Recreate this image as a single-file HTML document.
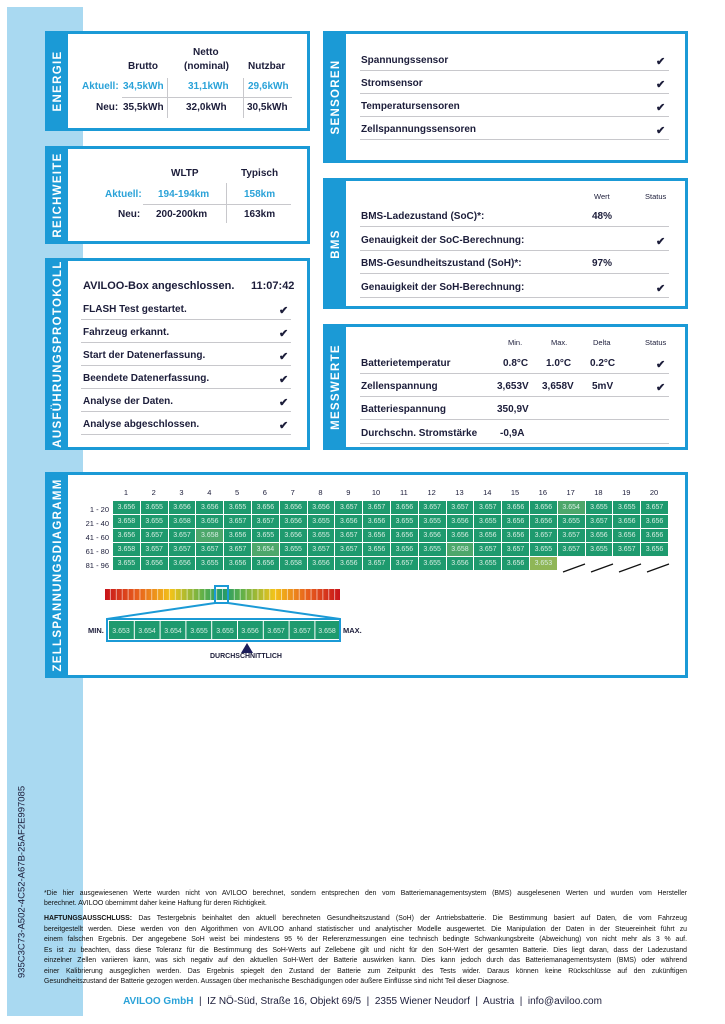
<!DOCTYPE html>
<html><head><meta charset="utf-8">
<style>
*{margin:0;padding:0;box-sizing:border-box}
body{width:725px;height:1024px;position:relative;background:#fff;font-family:"Liberation Sans",sans-serif;color:#1c1d3a;overflow:hidden}
.strip{position:absolute;left:7px;top:7px;width:76px;height:1009px;background:#a9d9f1}
.p{position:absolute;background:#fff;border:3px solid #1b9ad6}
.bar{position:absolute;left:0;top:0;bottom:0;width:20px;background:#1b9ad6}
.vt{position:absolute;left:10px;top:50%;transform:translate(-50%,-50%) rotate(-90deg);color:#fff;font-weight:bold;font-size:11.5px;letter-spacing:1.3px;white-space:nowrap}
.a{position:absolute;white-space:nowrap;font-size:10px;font-weight:bold}
.c{color:#2aa2d8}
.hl{position:absolute;height:1px;background:#c8c8cc}
.vl{position:absolute;width:1px;background:#c8c8cc}
.ck{position:absolute;font-size:11px;font-weight:bold}
.sm{font-size:7.5px;font-weight:normal}
table.g{position:absolute;left:112px;top:500px;border-collapse:collapse}
table.g td{width:27.8px;height:14px;background:#1e9a6e;color:#d8eee3;font-size:7px;text-align:center;border:1px solid #fff;padding:0}
table.g td.l{background:#4da76b}
table.g td.y{background:#8fb657}
table.g td.n{background:#fff}
.fn{position:absolute;left:44px;width:643px;font-size:6.9px;line-height:10.6px;text-align:justify;text-align-last:justify;white-space:nowrap;overflow:hidden;color:#111}
</style></head><body>
<div class="strip"></div>

<!-- ENERGIE -->
<div class="p" style="left:45px;top:31px;width:265px;height:100px"><div class="bar"><div class="vt">ENERGIE</div></div></div>
<div class="a" style="left:128px;top:61px">Brutto</div>
<div class="a" style="left:193px;top:47px">Netto</div>
<div class="a" style="left:184px;top:61px">(nominal)</div>
<div class="a" style="left:248px;top:61px">Nutzbar</div>
<div class="a c" style="left:82px;top:81px">Aktuell:</div>
<div class="a c" style="left:123px;top:81px">34,5kWh</div>
<div class="a c" style="left:188px;top:81px">31,1kWh</div>
<div class="a c" style="left:248px;top:81px">29,6kWh</div>
<div class="a" style="left:96px;top:102px">Neu:</div>
<div class="a" style="left:123px;top:102px">35,5kWh</div>
<div class="a" style="left:186px;top:102px">32,0kWh</div>
<div class="a" style="left:247px;top:102px">30,5kWh</div>
<div class="hl" style="left:122px;top:97px;width:170px"></div>
<div class="vl" style="left:167px;top:78px;height:40px"></div>
<div class="vl" style="left:243px;top:78px;height:40px"></div>

<!-- REICHWEITE -->
<div class="p" style="left:45px;top:146px;width:265px;height:98px"><div class="bar"><div class="vt">REICHWEITE</div></div></div>
<div class="a" style="left:171px;top:168px">WLTP</div>
<div class="a" style="left:241px;top:168px">Typisch</div>
<div class="a c" style="left:105px;top:189px">Aktuell:</div>
<div class="a c" style="left:158px;top:189px">194-194km</div>
<div class="a c" style="left:244px;top:189px">158km</div>
<div class="a" style="left:118px;top:209px">Neu:</div>
<div class="a" style="left:156px;top:209px">200-200km</div>
<div class="a" style="left:244px;top:209px">163km</div>
<div class="hl" style="left:143px;top:204px;width:148px"></div>
<div class="vl" style="left:226px;top:183px;height:40px"></div>

<!-- PROTOKOLL -->
<div class="p" style="left:45px;top:258px;width:265px;height:192px"><div class="bar"><div class="vt">AUSFÜHRUNGSPROTOKOLL</div></div></div>
<div class="a" style="left:83px;top:280px;font-size:11px">AVILOO-Box angeschlossen.</div>
<div class="a" style="left:251px;top:280px;font-size:11px">11:07:42</div>
<div class="a" style="left:83px;top:304px">FLASH Test gestartet.</div><div class="ck" style="left:279px;top:304px">✔</div><div class="hl" style="left:81px;top:319px;width:210px"></div>
<div class="a" style="left:83px;top:327px">Fahrzeug erkannt.</div><div class="ck" style="left:279px;top:327px">✔</div><div class="hl" style="left:81px;top:342px;width:210px"></div>
<div class="a" style="left:83px;top:350px">Start der Datenerfassung.</div><div class="ck" style="left:279px;top:350px">✔</div><div class="hl" style="left:81px;top:365px;width:210px"></div>
<div class="a" style="left:83px;top:373px">Beendete Datenerfassung.</div><div class="ck" style="left:279px;top:373px">✔</div><div class="hl" style="left:81px;top:388px;width:210px"></div>
<div class="a" style="left:83px;top:396px">Analyse der Daten.</div><div class="ck" style="left:279px;top:396px">✔</div><div class="hl" style="left:81px;top:411px;width:210px"></div>
<div class="a" style="left:83px;top:419px">Analyse abgeschlossen.</div><div class="ck" style="left:279px;top:419px">✔</div><div class="hl" style="left:81px;top:434px;width:210px"></div>

<!-- SENSOREN -->
<div class="p" style="left:323px;top:31px;width:365px;height:132px"><div class="bar"><div class="vt">SENSOREN</div></div></div>
<div class="a" style="left:361px;top:55px">Spannungssensor</div><div class="ck" style="left:656px;top:55px">✔</div><div class="hl" style="left:360px;top:70px;width:309px"></div>
<div class="a" style="left:361px;top:78px">Stromsensor</div><div class="ck" style="left:656px;top:78px">✔</div><div class="hl" style="left:360px;top:93px;width:309px"></div>
<div class="a" style="left:361px;top:101px">Temperatursensoren</div><div class="ck" style="left:656px;top:101px">✔</div><div class="hl" style="left:360px;top:116px;width:309px"></div>
<div class="a" style="left:361px;top:124px">Zellspannungssensoren</div><div class="ck" style="left:656px;top:124px">✔</div><div class="hl" style="left:360px;top:139px;width:309px"></div>

<!-- BMS -->
<div class="p" style="left:323px;top:178px;width:365px;height:131px"><div class="bar"><div class="vt">BMS</div></div></div>
<div class="a sm" style="left:594px;top:192px">Wert</div>
<div class="a sm" style="left:645px;top:192px">Status</div>
<div class="a" style="left:361px;top:211px">BMS-Ladezustand (SoC)*:</div><div class="a" style="left:592px;top:211px">48%</div><div class="hl" style="left:360px;top:226px;width:309px"></div>
<div class="a" style="left:361px;top:235px">Genauigkeit der SoC-Berechnung:</div><div class="ck" style="left:656px;top:235px">✔</div><div class="hl" style="left:360px;top:250px;width:309px"></div>
<div class="a" style="left:361px;top:258px">BMS-Gesundheitszustand (SoH)*:</div><div class="a" style="left:592px;top:258px">97%</div><div class="hl" style="left:360px;top:273px;width:309px"></div>
<div class="a" style="left:361px;top:282px">Genauigkeit der SoH-Berechnung:</div><div class="ck" style="left:656px;top:282px">✔</div><div class="hl" style="left:360px;top:297px;width:309px"></div>

<!-- MESSWERTE -->
<div class="p" style="left:323px;top:324px;width:365px;height:126px"><div class="bar"><div class="vt">MESSWERTE</div></div></div>
<div class="a sm" style="left:508px;top:338px">Min.</div>
<div class="a sm" style="left:551px;top:338px">Max.</div>
<div class="a sm" style="left:593px;top:338px">Delta</div>
<div class="a sm" style="left:645px;top:338px">Status</div>
<div class="a" style="left:361px;top:358px">Batterietemperatur</div><div class="a" style="left:503px;top:358px">0.8°C</div><div class="a" style="left:546px;top:358px">1.0°C</div><div class="a" style="left:590px;top:358px">0.2°C</div><div class="ck" style="left:656px;top:358px">✔</div><div class="hl" style="left:360px;top:373px;width:309px"></div>
<div class="a" style="left:361px;top:381px">Zellenspannung</div><div class="a" style="left:497px;top:381px">3,653V</div><div class="a" style="left:542px;top:381px">3,658V</div><div class="a" style="left:592px;top:381px">5mV</div><div class="ck" style="left:656px;top:381px">✔</div><div class="hl" style="left:360px;top:396px;width:309px"></div>
<div class="a" style="left:361px;top:404px">Batteriespannung</div><div class="a" style="left:497px;top:404px">350,9V</div><div class="hl" style="left:360px;top:419px;width:309px"></div>
<div class="a" style="left:361px;top:428px">Durchschn. Stromstärke</div><div class="a" style="left:500px;top:428px">-0,9A</div><div class="hl" style="left:360px;top:443px;width:309px"></div>

<!-- ZELLSPANNUNG -->
<div class="p" style="left:45px;top:472px;width:643px;height:206px"><div class="bar"><div class="vt">ZELLSPANNUNGSDIAGRAMM</div></div></div>
<div style="position:absolute;left:112px;top:488px;width:556px;display:flex;font-size:7.5px">
<span style="flex:1;text-align:center">1</span><span style="flex:1;text-align:center">2</span><span style="flex:1;text-align:center">3</span><span style="flex:1;text-align:center">4</span><span style="flex:1;text-align:center">5</span><span style="flex:1;text-align:center">6</span><span style="flex:1;text-align:center">7</span><span style="flex:1;text-align:center">8</span><span style="flex:1;text-align:center">9</span><span style="flex:1;text-align:center">10</span><span style="flex:1;text-align:center">11</span><span style="flex:1;text-align:center">12</span><span style="flex:1;text-align:center">13</span><span style="flex:1;text-align:center">14</span><span style="flex:1;text-align:center">15</span><span style="flex:1;text-align:center">16</span><span style="flex:1;text-align:center">17</span><span style="flex:1;text-align:center">18</span><span style="flex:1;text-align:center">19</span><span style="flex:1;text-align:center">20</span></div>
<div style="position:absolute;left:80px;top:503px;width:29px;text-align:right;font-size:7.5px;line-height:14px">1 - 20<br>21 - 40<br>41 - 60<br>61 - 80<br>81 - 96</div>
<table class="g">
<tr><td>3.656</td><td>3.655</td><td>3.656</td><td>3.656</td><td>3.655</td><td>3.656</td><td>3.656</td><td>3.656</td><td>3.657</td><td>3.657</td><td>3.656</td><td>3.657</td><td>3.657</td><td>3.657</td><td>3.656</td><td>3.656</td><td class="l">3.654</td><td>3.655</td><td>3.655</td><td>3.657</td></tr>
<tr><td>3.658</td><td>3.655</td><td>3.658</td><td>3.656</td><td>3.657</td><td>3.657</td><td>3.656</td><td>3.655</td><td>3.656</td><td>3.656</td><td>3.655</td><td>3.655</td><td>3.656</td><td>3.655</td><td>3.656</td><td>3.656</td><td>3.655</td><td>3.657</td><td>3.656</td><td>3.656</td></tr>
<tr><td>3.656</td><td>3.657</td><td>3.657</td><td class="l">3.658</td><td>3.656</td><td>3.655</td><td>3.656</td><td>3.655</td><td>3.657</td><td>3.656</td><td>3.656</td><td>3.656</td><td>3.656</td><td>3.656</td><td>3.656</td><td>3.657</td><td>3.657</td><td>3.656</td><td>3.656</td><td>3.656</td></tr>
<tr><td>3.658</td><td>3.657</td><td>3.657</td><td>3.657</td><td>3.657</td><td class="l">3.654</td><td>3.655</td><td>3.657</td><td>3.657</td><td>3.656</td><td>3.656</td><td>3.655</td><td class="l">3.658</td><td>3.657</td><td>3.657</td><td>3.655</td><td>3.657</td><td>3.655</td><td>3.657</td><td>3.656</td></tr>
<tr><td>3.655</td><td>3.656</td><td>3.656</td><td>3.655</td><td>3.656</td><td>3.656</td><td>3.658</td><td>3.656</td><td>3.656</td><td>3.657</td><td>3.657</td><td>3.655</td><td>3.656</td><td>3.655</td><td>3.656</td><td class="y">3.653</td><td class="n"></td><td class="n"></td><td class="n"></td><td class="n"></td></tr>
</table>
<svg style="position:absolute;left:0;top:0" width="725" height="700">
<g stroke="#111" stroke-width="1.2"><line x1="563" y1="572" x2="585" y2="564"/><line x1="591" y1="572" x2="613" y2="564"/><line x1="619" y1="572" x2="641" y2="564"/><line x1="647" y1="572" x2="669" y2="564"/></g>
<defs><linearGradient id="gb"><stop offset="0" stop-color="#c8141b"/><stop offset=".14" stop-color="#e8601c"/><stop offset=".28" stop-color="#f2c31a"/><stop offset=".42" stop-color="#5db04a"/><stop offset=".5" stop-color="#22996a"/><stop offset=".58" stop-color="#5db04a"/><stop offset=".72" stop-color="#f2c31a"/><stop offset=".86" stop-color="#e8601c"/><stop offset="1" stop-color="#c8141b"/></linearGradient>
<pattern id="sg" width="5.9" height="12" patternUnits="userSpaceOnUse" x="105"><rect x="5" width="0.9" height="12" fill="#fff" opacity=".6"/></pattern></defs>
<rect x="105" y="589" width="235" height="11" fill="url(#gb)"/>
<rect x="105" y="589" width="235" height="11" fill="url(#sg)"/>
<rect x="215" y="586" width="13" height="17" fill="none" stroke="#1b9ad6" stroke-width="2"/>
<polyline points="215,603 107,619 107,641 340,641 340,619 228,603" fill="none" stroke="#1b9ad6" stroke-width="2"/>
<line x1="107" y1="619" x2="340" y2="619" stroke="#1b9ad6" stroke-width="2"/>
<g fill="#1e9a6e"><rect x="109" y="621" width="24.8" height="18"/><rect x="134.8" y="621" width="24.8" height="18"/><rect x="160.6" y="621" width="24.8" height="18"/><rect x="186.4" y="621" width="24.8" height="18"/><rect x="212.2" y="621" width="24.8" height="18"/><rect x="238" y="621" width="24.8" height="18"/><rect x="263.8" y="621" width="24.8" height="18"/><rect x="289.6" y="621" width="24.8" height="18"/><rect x="315.4" y="621" width="23.6" height="18"/></g>
<g fill="#d8eee3" font-size="7" text-anchor="middle" font-family="Liberation Sans"><text x="121" y="633">3.653</text><text x="147" y="633">3.654</text><text x="173" y="633">3.654</text><text x="199" y="633">3.655</text><text x="225" y="633">3.655</text><text x="250" y="633">3.656</text><text x="276" y="633">3.657</text><text x="302" y="633">3.657</text><text x="327" y="633">3.658</text></g>
<polygon points="247,643 241,653 253,653" fill="#1c1d5a"/>
</svg>
<div class="a" style="left:88px;top:626px;font-size:7.5px">MIN.</div>
<div class="a" style="left:343px;top:626px;font-size:7.5px">MAX.</div>
<div class="a" style="left:210px;top:653px;font-size:7px">DURCHSCHNITTLICH</div>

<!-- ID -->
<div style="position:absolute;left:22px;top:882px;transform:translate(-50%,-50%) rotate(-90deg);font-size:9.5px;white-space:nowrap;color:#1c1d3a">935C3C73-A502-4C52-A67B-25AF2E997085</div>

<!-- Footnotes -->
<div class="fn" style="top:889px">*Die hier ausgewiesenen Werte wurden nicht von AVILOO berechnet, sondern entsprechen den vom Batteriemanagementsystem (BMS) ausgelesenen Werten und wurden vom Hersteller</div>
<div class="fn" style="top:899px;text-align-last:left">berechnet. AVILOO übernimmt daher keine Haftung für deren Richtigkeit.</div>
<div class="fn" style="top:914px"><b>HAFTUNGSAUSSCHLUSS:</b> Das Testergebnis beinhaltet den aktuell berechneten Gesundheitszustand (SoH) der Antriebsbatterie. Die Bestimmung basiert auf Daten, die vom Fahrzeug</div>
<div class="fn" style="top:924.5px">bereitgestellt werden. Diese werden von den Algorithmen von AVILOO anhand statistischer und analytischer Modelle ausgewertet. Die Manipulation der Daten in der Steuereinheit führt zu</div>
<div class="fn" style="top:935px">einem falschen Ergebnis. Der angegebene SoH weist bei mindestens 95 % der Referenzmessungen eine technisch bedingte Schwankungsbreite (Abweichung) von nicht mehr als 3 % auf.</div>
<div class="fn" style="top:945.5px">Es ist zu beachten, dass diese Toleranz für die Bestimmung des SoH-Werts auf Zellebene gilt und nicht für den SoH-Wert der gesamten Batterie. Dies liegt daran, dass der Ladezustand</div>
<div class="fn" style="top:956px">einzelner Zellen variieren kann, was sich negativ auf den aktuellen SoH-Wert der Batterie auswirken kann. Dies kann jedoch durch das Batteriemanagementsystem (BMS) oder während</div>
<div class="fn" style="top:966.5px">einer Kalibrierung ausgeglichen werden. Das Ergebnis spiegelt den Zustand der Batterie zum Zeitpunkt des Tests wider. Daraus können keine Rückschlüsse auf den zukünftigen</div>
<div class="fn" style="top:977px;text-align-last:left">Gesundheitszustand der Batterie gezogen werden. Aussagen über mechanische Beschädigungen oder äußere Einflüsse sind nicht Teil dieser Diagnose.</div>

<div style="position:absolute;left:0;width:725px;top:996px;text-align:center;font-size:10px;white-space:nowrap"><span class="c" style="font-weight:bold">AVILOO GmbH</span> &nbsp;|&nbsp; IZ NÖ-Süd, Straße 16, Objekt 69/5 &nbsp;|&nbsp; 2355 Wiener Neudorf &nbsp;|&nbsp; Austria &nbsp;|&nbsp; info@aviloo.com</div>
</body></html>
